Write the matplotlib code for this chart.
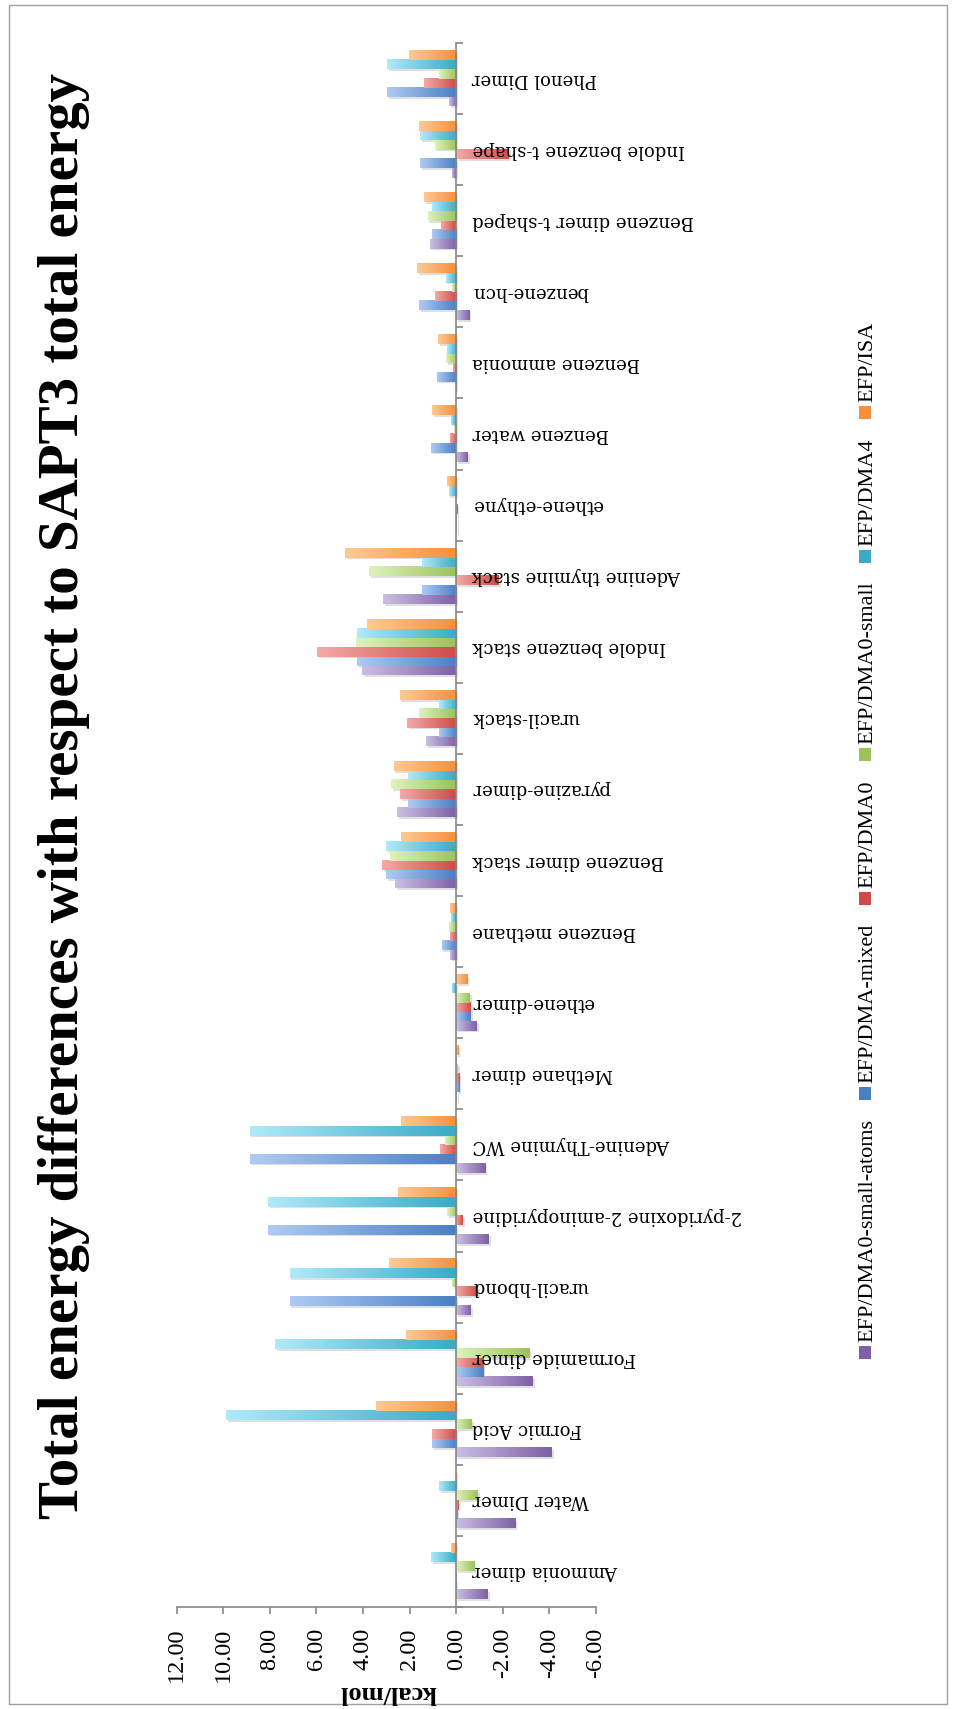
import numpy as np
import matplotlib
matplotlib.use("Agg")
import matplotlib.pyplot as plt
from matplotlib import transforms
from matplotlib.colors import to_rgb
from matplotlib.patches import Rectangle
import matplotlib.patheffects as pe

# ---- data -------------------------------------------------------------
categories = [
    "Ammonia dimer", "Water Dimer", "Formic Acid", "Formamide dimer",
    "uracil-hbond", "2-pyridoxine 2-aminopyridine", "Adenine-Thymine WC",
    "Methane dimer", "ethene-dimer", "Benzene methane", "Benzene dimer stack",
    "pyrazine-dimer", "uracil-stack", "Indole benzene stack",
    "Adenine thymine stack", "ethene-ethyne", "Benzene water",
    "Benzene ammonia", "benzene-hcn", "Benzene dimer t-shaped",
    "Indole benzene t-shape", "Phenol Dimer",
]

series_names = ["EFP/DMA0-small-atoms", "EFP/DMA-mixed", "EFP/DMA0",
                "EFP/DMA0-small", "EFP/DMA4", "EFP/ISA"]

dma0_small_atoms = [-1.36, -2.55, -4.10, -3.29, -0.64, -1.40, -1.25, -0.04,
                    -0.89, 0.26, 2.63, 2.55, 1.29, 4.03, 3.15, -0.02, -0.50,
                    0.03, -0.57, 1.14, 0.17, 0.31]
dma_mixed = [0.03, -0.05, 1.04, -1.17, 7.15, 8.08, 8.87, -0.14, -0.64, 0.63,
             3.00, 2.06, 0.76, 4.26, 1.46, -0.04, 1.07, 0.83, 1.60, 1.05,
             1.55, 2.98]
dma0 = [0.02, -0.10, 1.04, -1.17, -0.93, -0.29, 0.69, -0.14, -0.64, 0.26,
        3.19, 2.40, 2.12, 5.98, -1.83, -0.05, 0.26, 0.15, 0.93, 0.64,
        -2.26, 1.40]
dma0_small = [-0.79, -0.93, -0.68, -3.15, 0.17, 0.39, 0.50, -0.08, -0.58,
              0.33, 2.86, 2.78, 1.58, 4.32, 3.75, 0.01, 0.11, 0.43, 0.17,
              1.23, 0.93, 0.74]
dma4 = [1.07, 0.74, 9.87, 7.77, 7.15, 8.08, 8.87, 0.01, 0.17, 0.21, 3.00,
        2.06, 0.75, 4.26, 1.46, 0.33, 0.21, 0.40, 0.46, 1.05, 1.55, 2.98]
isa = [0.24, 0.03, 3.46, 2.15, 2.89, 2.50, 2.36, -0.10, -0.48, 0.26, 2.36,
       2.69, 2.43, 3.83, 4.76, 0.40, 1.03, 0.79, 1.67, 1.39, 1.60, 2.03]

series_values = [dma0_small_atoms, dma_mixed, dma0, dma0_small, dma4, isa]

value_ticks = [12, 10, 8, 6, 4, 2, 0, -2, -4, -6]

title = "Total energy differences with respect to SAPT3 total energy"
axis_title = "kcal/mol"

# ---- style ------------------------------------------------------------
light_colors = ["#cbbfe2", "#afcbf3", "#f4aaa8", "#e0f2bd", "#b0eafa", "#fdca94"]
dark_colors = ["#7f60a6", "#4a7fc4", "#cd4c48", "#9cc25a", "#3aaac6", "#f6903a"]
axis_grey = "#868686"

W, H = 954, 1709
fig = plt.figure(figsize=(W / 100, H / 100), dpi=100)
fig.patch.set_facecolor("white")

ax_left, ax_right, ax_top, ax_bottom = 176.7, 596.0, 43.0, 1607.0
ax = fig.add_axes([ax_left / W, 1 - ax_bottom / H,
                   (ax_right - ax_left) / W, (ax_bottom - ax_top) / H])
ax.set_facecolor("none")

n_cat = len(categories)
n_ser = len(series_values)
bar_h = 0.131
ypos = np.arange(n_cat)

for i, (vals, lc, dc) in enumerate(zip(series_values, light_colors, dark_colors)):
    offs = (i - (n_ser - 1) / 2) * bar_h
    bars = ax.barh(ypos + offs, vals, height=bar_h, color=dc, linewidth=0,
                   zorder=2,
                   path_effects=[pe.SimplePatchShadow(offset=(1.3, -1.3),
                                                      shadow_rgbFace=(0.45, 0.45, 0.45),
                                                      alpha=0.22),
                                 pe.Normal()])
    c0 = np.array(to_rgb(lc))
    c1 = np.array(to_rgb(dc))
    t = np.linspace(0, 1, 96)[None, :, None]
    grad = c0 * (1 - t) + c1 * t
    for rect in bars:
        x0, w = rect.get_x(), rect.get_width()
        if abs(w) < 1e-9:
            continue
        lo, hi = min(x0, x0 + w), max(x0, x0 + w)
        y0, h = rect.get_y(), rect.get_height()
        # column 0 (light) sits at the larger value, i.e. the left on this axis
        ax.imshow(grad, extent=(hi, lo, y0, y0 + h), aspect="auto",
                  interpolation="bilinear", zorder=2.1)

ax.set_xlim(12, -6)
ax.set_ylim(-0.5, n_cat - 0.5)

# value axis along the bottom
for s in ("top", "right"):
    ax.spines[s].set_visible(False)
ax.spines["bottom"].set_color(axis_grey)
ax.spines["bottom"].set_linewidth(1.2)
ax.set_xticks(value_ticks)
ax.set_xticklabels([f"{abs(v):.2f}" if v == 0 else f"{v:.2f}" for v in value_ticks],
                   rotation=90, fontsize=17.5, family="Liberation Serif")
ax.tick_params(axis="x", direction="out", length=5, width=1.2, color=axis_grey,
               pad=10)

# category axis at zero
ax.spines["left"].set_position(("data", 0))
ax.spines["left"].set_color(axis_grey)
ax.spines["left"].set_linewidth(1.2)
ax.spines["left"].set_zorder(3)
ax.set_yticks(np.arange(-0.5, n_cat, 1.0))
ax.set_yticklabels([])
ax.tick_params(axis="y", direction="in", length=5, width=1.2, color=axis_grey)

label_tr = ax.transData + transforms.ScaledTranslation(16 / 100, 0, fig.dpi_scale_trans)
for k, name in enumerate(categories):
    ax.text(0, k, name, transform=label_tr, rotation=180, ha="left", va="center",
            fontsize=13, family="DejaVu Serif", color="black", zorder=4)

fig.text(64 / W, 1 - 796 / H, title, rotation=90, ha="center", va="center",
         fontsize=41, fontweight="bold", family="Liberation Serif")
fig.text(388 / W, 1 - 1692 / H, axis_title, rotation=180, ha="center",
         va="center", fontsize=19, fontweight="bold", family="Liberation Serif")

# legend, stacked bottom-to-top along the right edge
fig.canvas.draw()
renderer = fig.canvas.get_renderer()
y = 1359.0
mk_w, mk_h = 12, 13
for name, col in zip(series_names, dark_colors):
    fig.add_artist(Rectangle(((865 - mk_w / 2) / W, 1 - y / H), mk_w / W, mk_h / H,
                             transform=fig.transFigure, facecolor=col,
                             edgecolor="none"))
    y_txt = y - mk_h - 4
    txt = fig.text(868 / W, 1 - y_txt / H, name, rotation=90, ha="center",
                   va="bottom", fontsize=16, family="Liberation Serif")
    bb = txt.get_window_extent(renderer)
    y = y_txt - bb.height - 19

# chart frame
fig.add_artist(Rectangle((9 / W, 1 - 1704 / H), (947 - 9) / W, (1704 - 5) / H,
                         transform=fig.transFigure, fill=False,
                         edgecolor="#a0a0a0", linewidth=1))

fig.savefig("out.png", dpi=100, facecolor="white")
